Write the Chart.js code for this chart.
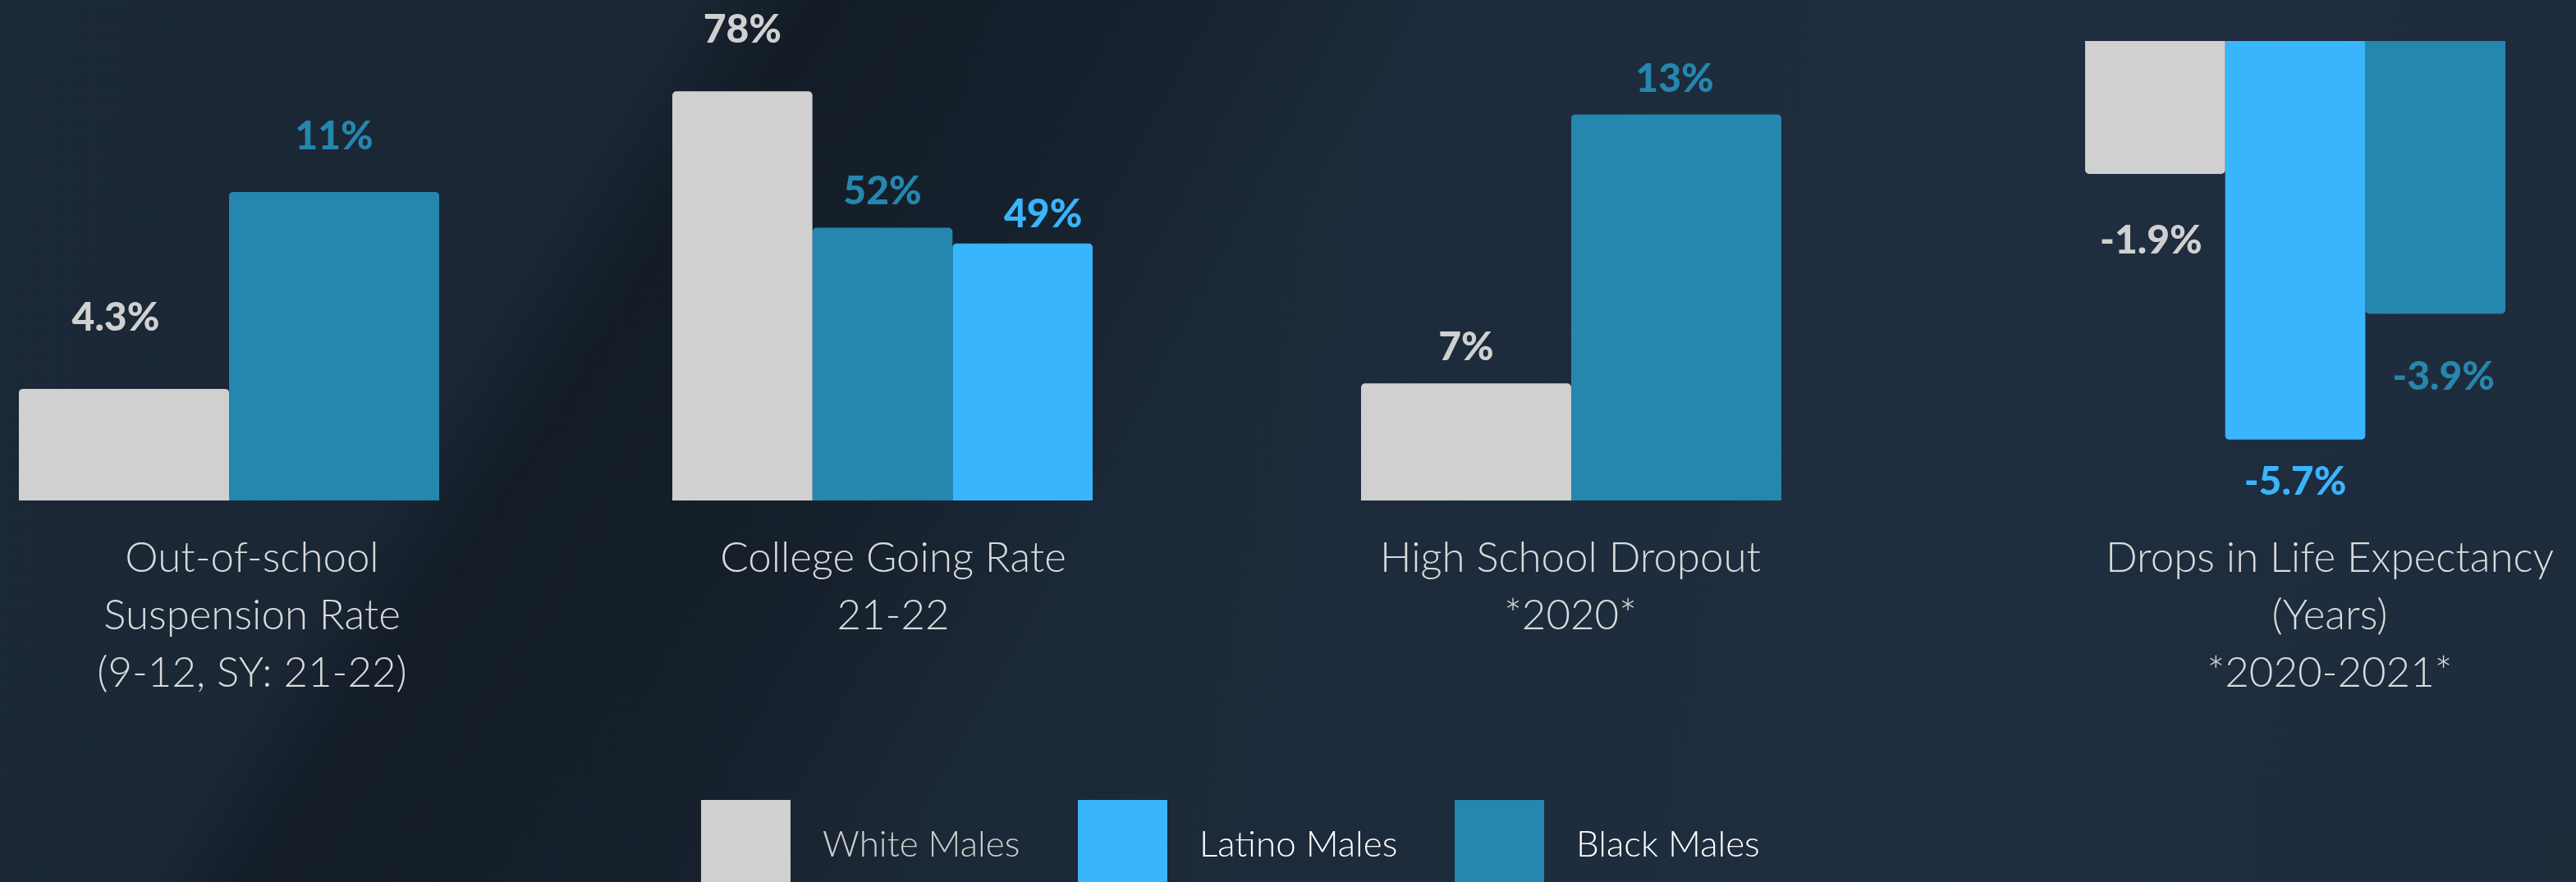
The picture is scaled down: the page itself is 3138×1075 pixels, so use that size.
<!DOCTYPE html>
<html>
<head>
<meta charset="utf-8">
<script src="https://cdn.jsdelivr.net/npm/chart.js@4.4.0/dist/chart.umd.min.js"></script>
<style>
  html, body { margin: 0; padding: 0; }
  body {
    width: 3138px; height: 1075px; overflow: hidden; position: relative;
    background:
      linear-gradient(122deg, rgba(10,16,24,0) 0%, rgba(10,16,24,0) 22%, rgba(10,16,24,0.45) 26%, rgba(10,16,24,0.25) 38%, rgba(10,16,24,0) 46%),
      linear-gradient(100deg, #1b2837 0%, #1a2633 30%, #1c2a3a 50%, #1f2e40 75%, #1d2b3b 100%);
    font-family: Lato, "Noto Sans", sans-serif;
  }
  .panel { position: absolute; top: 0; width: 800px; height: 1075px; }
  #legend { position: absolute; left: 854px; top: 975px; display: flex; }
  .item { width: 459px; height: 100px; position: relative; }
  .swatch { position: absolute; left: 0; top: 0; width: 109px; height: 100px; }
  .item span { position: absolute; left: 148px; top: 52px; transform: translateY(-50%);
    font-size: 44px; font-weight: 300; line-height: 1; white-space: nowrap; }
</style>
</head>
<body>
<div class="panel" id="p0"><canvas id="c0" width="800" height="1075"></canvas></div>
<div class="panel" id="p1"><canvas id="c1" width="800" height="1075"></canvas></div>
<div class="panel" id="p2"><canvas id="c2" width="800" height="1075"></canvas></div>
<div class="panel" id="p3"><canvas id="c3" width="800" height="1075"></canvas></div>
<div id="legend"></div>
<script>
const categories = [
  ['Out-of-school', 'Suspension Rate', '(9-12, SY: 21-22)'],
  ['College Going Rate', '21-22'],
  ['High School Dropout', '*2020*'],
  ['Drops in Life Expectancy', '(Years)', '*2020-2021*']
];
const seriesNames = ['White Males', 'Latino Males', 'Black Males'];
const whiteMales = [4.3, 78, 7, -1.9];
const latinoMales = [null, 49, null, -5.7];
const blackMales = [11, 52, 13, -3.9];

const series = [whiteMales, latinoMales, blackMales];
const colors = ['#d0d0d0', '#39b5fe', '#2586ae'];
const legendText = ['#cfcfcf', '#ffffff', '#ffffff'];

// layout of each small chart: where its bar group sits, its value range,
// the order of bars and how far the value labels float from the bars
const panels = [
  { center: 279, order: [0, 2], yMin: 0.5, yMax: 17.53, labelShift: 28, gaps: [86, 67], nudges: [-10, 0] },
  { center: 1075, order: [0, 2, 1], yMin: 0, yMax: 95.4, labelShift: 13, gaps: [75, 44, 35], nudges: [0, 0, 25] },
  { center: 1914, order: [0, 2], yMin: 4.39, yMax: 15.55, labelShift: -1, gaps: [44, 43], nudges: [0, -2] },
  { center: 2796, order: [0, 1, 2], yMin: -6.57, yMax: 0.587, labelShift: 42, gaps: [82, 52, 77], nudges: [-5, 0, 10] }
];

const PANEL_W = 800;
const GROUP_W = 512;

const valueLabels = {
  id: 'valueLabels',
  afterDatasetsDraw(chart, args, opts) {
    const ctx = chart.ctx;
    chart.data.datasets.forEach((ds, i) => {
      const bar = chart.getDatasetMeta(i).data[0];
      const v = ds.data[0];
      if (!bar || v == null) return;
      const y = v < 0 ? bar.y + opts.gaps[i] : bar.y - opts.gaps[i];
      ctx.save();
      ctx.font = '900 48px Lato';
      ctx.fillStyle = ds.backgroundColor;
      ctx.textAlign = 'center';
      ctx.textBaseline = 'middle';
      ctx.fillText(v + '%', bar.x + opts.nudges[i], y);
      ctx.restore();
    });
  }
};

panels.forEach((p, k) => {
  document.getElementById('p' + k).style.left = (p.center - PANEL_W / 2) + 'px';

  let datasets = p.order.map(s => {
    let ds = {
      label: seriesNames[s],
      data: [series[s][k]],
      backgroundColor: colors[s],
      borderRadius: 5,
      borderSkipped: 'start'
    };
    if (p.yMin > 0) ds.base = p.yMin;
    return ds;
  });

  new Chart(document.getElementById('c' + k), {
    type: 'bar',
    data: { labels: [categories[k]], datasets },
    options: {
      responsive: false,
      animation: false,
      devicePixelRatio: 1,
      layout: { padding: 0 },
      datasets: { bar: { categoryPercentage: GROUP_W / PANEL_W, barPercentage: 1 } },
      plugins: {
        legend: { display: false },
        tooltip: { enabled: false },
        valueLabels: { gaps: p.gaps, nudges: p.nudges }
      },
      scales: {
        x: {
          grid: { display: false },
          border: { display: false },
          ticks: {
            color: '#dadada',
            font: { family: 'Lato', size: 51, weight: 300, lineHeight: 70 / 51 },
            padding: 28,
            labelOffset: p.labelShift,
            maxRotation: 0,
            minRotation: 0,
            autoSkip: false
          },
          afterFit: s => { s.height = 465; }
        },
        y: { display: false, min: p.yMin, max: p.yMax }
      }
    },
    plugins: [valueLabels]
  });
});

let legend = document.getElementById('legend');
seriesNames.forEach((name, i) => {
  let item = document.createElement('div');
  item.className = 'item';
  item.innerHTML = '<div class="swatch" style="background:' + colors[i] + '"></div>' +
    '<span style="color:' + legendText[i] + '">' + name + '</span>';
  legend.appendChild(item);
});
</script>
</body>
</html>
